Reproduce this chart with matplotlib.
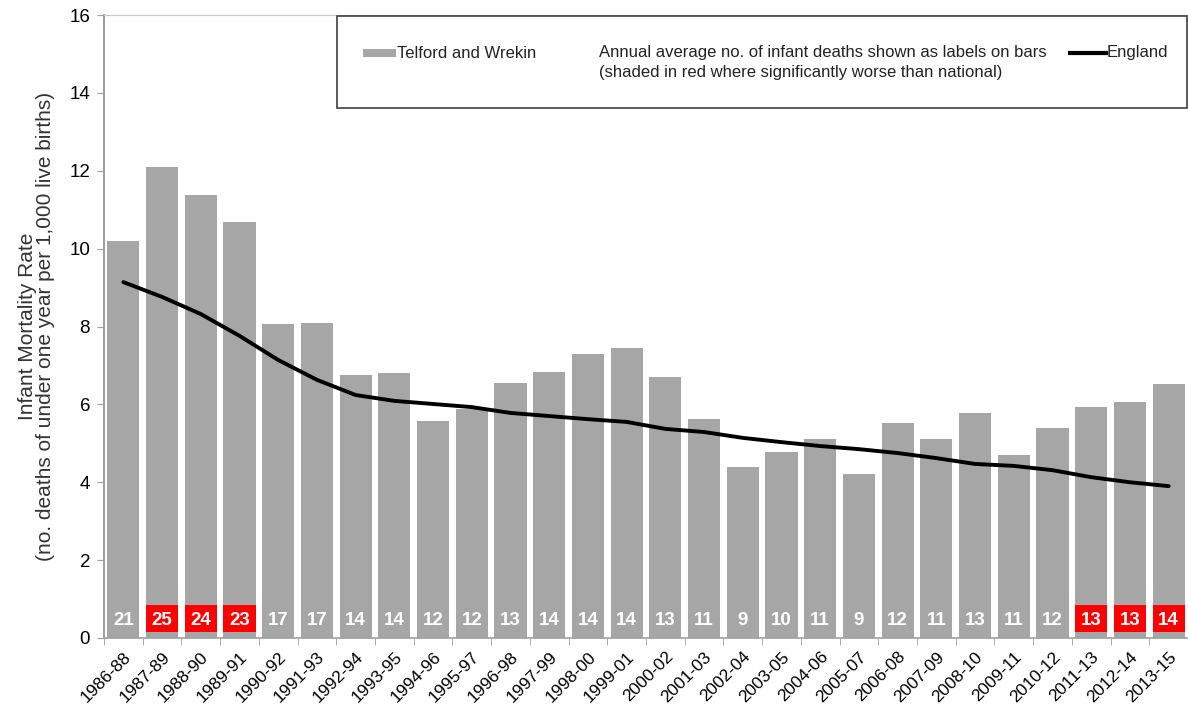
import matplotlib
matplotlib.use("Agg")
import matplotlib.pyplot as plt
from matplotlib.patches import Rectangle
from matplotlib.lines import Line2D
import numpy as np

plt.rcParams['font.family'] = ['Liberation Sans', 'DejaVu Sans']

periods = ["1986-88", "1987-89", "1988-90", "1989-91", "1990-92", "1991-93", "1992-94",
           "1993-95", "1994-96", "1995-97", "1996-98", "1997-99", "1998-00", "1999-01",
           "2000-02", "2001-03", "2002-04", "2003-05", "2004-06", "2005-07", "2006-08",
           "2007-09", "2008-10", "2009-11", "2010-12", "2011-13", "2012-14", "2013-15"]
telford_rate = [10.2, 12.1, 11.38, 10.68, 8.06, 8.09, 6.75, 6.8, 5.57, 5.88, 6.55, 6.83,
                7.29, 7.45, 6.7, 5.62, 4.39, 4.78, 5.11, 4.21, 5.52, 5.11, 5.78, 4.7,
                5.39, 5.93, 6.06, 6.52]
england_rate = [9.14, 8.76, 8.32, 7.76, 7.14, 6.63, 6.24, 6.09, 6.01, 5.93, 5.78, 5.70,
                5.62, 5.55, 5.37, 5.29, 5.14, 5.03, 4.93, 4.85, 4.75, 4.62, 4.47, 4.42,
                4.31, 4.13, 4.00, 3.90]
deaths = [21, 25, 24, 23, 17, 17, 14, 14, 12, 12, 13, 14, 14, 14, 13, 11, 9, 10, 11, 9,
          12, 11, 13, 11, 12, 13, 13, 14]
sig_worse = [False, True, True, True, False, False, False, False, False, False, False,
             False, False, False, False, False, False, False, False, False, False, False,
             False, False, False, True, True, True]

fig = plt.figure(figsize=(11.88, 7.10), dpi=100)
ax = fig.add_axes([104/1188, 1 - 638/710, 1 - 104/1188, (638 - 15)/710])

x = np.arange(len(periods))
bw = 0.83
ax.bar(x, telford_rate, width=bw, color='#a6a6a6', zorder=2)
ax.plot(x, england_rate, color='black', linewidth=2.8, zorder=4, solid_capstyle='round')

for xi, d, s in zip(x, deaths, sig_worse):
    if s:
        ax.add_patch(Rectangle((xi - bw/2, 0.145), bw, 0.69, facecolor='#ff0000',
                               edgecolor='none', zorder=3))
    ax.text(xi, 0.46, str(d), ha='center', va='center', color='white',
            fontsize=13.5, fontweight='bold', zorder=5)

ax.set_xlim(-0.5, len(periods) - 0.5)
ax.set_ylim(0, 16)
ax.set_yticks(np.arange(0, 17, 2))
ax.tick_params(axis='y', labelsize=13.5, length=5, color='#a0a0a0', pad=5)
ax.set_xticks(x)
ax.set_xticklabels(periods, rotation=45, ha='right', rotation_mode='anchor', fontsize=12.5)
ax.tick_params(axis='x', which='major', length=0, pad=8)
ax.set_xticks(np.arange(-0.5, len(periods), 1), minor=True)
ax.tick_params(axis='x', which='minor', length=5, color='#a0a0a0')

ax.spines['right'].set_visible(False)
ax.spines['top'].set_color('#c8c8c8')
ax.spines['left'].set_color('#a0a0a0')
ax.spines['bottom'].set_color('#a0a0a0')
ax.spines['left'].set_linewidth(1.5)
ax.spines['bottom'].set_linewidth(1.2)

ax.set_ylabel("Infant Mortality Rate\n(no. deaths of under one year per 1,000 live births)",
              fontsize=15, color='#333333', labelpad=10, linespacing=0.95)

# legend box
def ay(py):
    return (638 - py) / 623
def axx(px):
    return (px - 104) / 1084

ax.add_patch(Rectangle((axx(337), ay(108)), axx(1187) - axx(337), ay(16) - ay(108),
                       transform=ax.transAxes, facecolor='white', edgecolor='#404040',
                       linewidth=1.2, zorder=6, clip_on=False))
ax.add_patch(Rectangle((axx(363), ay(57)), axx(396) - axx(363), ay(49) - ay(57),
                       transform=ax.transAxes, facecolor='#a6a6a6', edgecolor='none',
                       zorder=7, clip_on=False))
ax.text(axx(397), ay(53), "Telford and Wrekin", transform=ax.transAxes, fontsize=12,
        va='center', ha='left', zorder=7, color='#222222')
ax.text(axx(599), ay(53), "Annual average no. of infant deaths shown as labels on bars",
        transform=ax.transAxes, fontsize=12, va='center', ha='left', zorder=7, color='#222222')
ax.text(axx(599), ay(73), "(shaded in red where significantly worse than national)",
        transform=ax.transAxes, fontsize=12, va='center', ha='left', zorder=7, color='#222222')
ax.add_line(Line2D([axx(1070), axx(1106)], [ay(53), ay(53)], transform=ax.transAxes,
                   color='black', linewidth=3, zorder=7, clip_on=False))
ax.text(axx(1107), ay(53), "England", transform=ax.transAxes, fontsize=12,
        va='center', ha='left', zorder=7, color='#222222')

fig.savefig("out.png", dpi=100)
